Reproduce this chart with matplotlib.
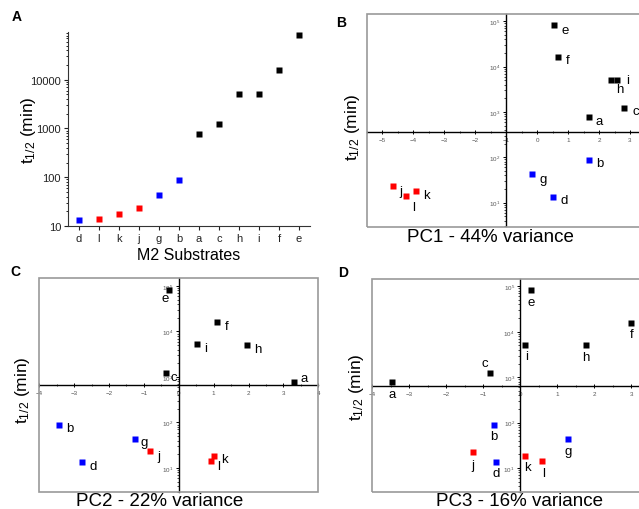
import numpy as np
import matplotlib.pyplot as plt
from matplotlib.patches import Rectangle
from matplotlib.ticker import LogLocator, NullFormatter, MultipleLocator, FixedLocator

plt.rcParams['font.family'] = ['Liberation Sans', 'DejaVu Sans']
plt.rcParams['mathtext.fontset'] = 'custom'
plt.rcParams['mathtext.rm'] = 'Liberation Sans'
plt.rcParams['mathtext.it'] = 'Liberation Sans:italic'
plt.rcParams['mathtext.default'] = 'regular'

# Substrates and their half-lives (min)
substrates = ['a', 'b', 'c', 'd', 'e', 'f', 'g', 'h', 'i', 'j', 'k', 'l']
t_half = [770, 88, 1250, 13.5, 83000, 16000, 43, 5000, 5200, 23, 18, 14]
groups = ['k', 'b', 'k', 'b', 'k', 'k', 'b', 'k', 'k', 'r', 'r', 'r']

# Order used on the x axis of panel A
order_a = ['d', 'l', 'k', 'j', 'g', 'b', 'a', 'c', 'h', 'i', 'f', 'e']

# Principal component scores
pc1 = [1.67, 1.67, 2.82, 0.53, 0.56, 0.69, -0.16, 2.38, 2.57, -4.64, -3.90, -4.23]
pc2 = [3.30, -3.44, -0.37, -2.77, -0.27, 1.09, -1.26, 1.96, 0.53, -0.82, 1.02, 0.92]
pc3 = [-3.46, -0.71, -0.82, -0.66, 0.30, 3.00, 1.30, 1.78, 0.14, -1.29, 0.14, 0.58]

colors = {'k': '#000000', 'b': '#0000ff', 'r': '#ff0000'}

W, H = 639, 510
fig = plt.figure(figsize=(W / 100, H / 100), dpi=100)


def box(left, top, right, bottom):
    return [left / W, 1 - bottom / H, (right - left) / W, (bottom - top) / H]


def ylabel_at(x, y):
    fig.text(x / W, 1 - y / H, r't$_{1/2}$ (min)', rotation=90,
             ha='center', va='center', fontsize=12.5)


# ---- Panel A ----
ax = fig.add_axes(box(68, 33, 310, 227))
idx = {s: i for i, s in enumerate(substrates)}
for pos, s in enumerate(order_a, start=1):
    i = idx[s]
    ax.plot(pos, t_half[i], 's', color=colors[groups[i]], ms=5, mec='none')
ax.set_yscale('log')
ax.set_ylim(10, 9.5e4)
ax.set_xlim(0.45, 12.55)
ax.set_xticks(range(1, 13))
ax.set_xticklabels(order_a)
ax.set_yticks([10, 100, 1000, 10000])
ax.set_yticklabels(['10', '100', '1000', '10000'])
ax.yaxis.set_minor_locator(LogLocator(base=10, subs=np.arange(2, 10)))
ax.yaxis.set_minor_formatter(NullFormatter())
ax.tick_params(labelsize=8, length=3, width=0.8, pad=2, colors='#222222')
ax.tick_params(which='minor', length=1.5, width=0.6)
for side in ('top', 'right'):
    ax.spines[side].set_visible(False)
for side in ('left', 'bottom'):
    ax.spines[side].set_color('#333333')
fig.text(189 / W, 1 - 255 / H, 'M2 Substrates', ha='center', va='center', fontsize=11.5)
ylabel_at(29, 130)
fig.text(17 / W, 1 - 17 / H, 'A', fontsize=10, fontweight='bold', ha='center', va='center')


def pca_panel(rect, xs, xlim, cross_x, cross_y, offsets, xlabel, xlab_pos, ylab_pos, letter, letter_pos):
    ax = fig.add_axes(rect)
    for i, s in enumerate(substrates):
        ax.plot(xs[i], t_half[i], 's', color=colors[groups[i]], ms=4.8, mec='none', zorder=3)
        dx, dy = offsets[s]
        ax.annotate(s, (xs[i], t_half[i]), xytext=(dx, -dy), textcoords='offset pixels',
                    ha='center', va='center', fontsize=9.5, zorder=4)
    ax.set_yscale('log')
    ax.set_ylim(10 ** 0.47, 10 ** 5.17)
    ax.set_xlim(*xlim)
    ax.spines['left'].set_position(('data', cross_x))
    ax.spines['bottom'].set_position(('data', cross_y))
    for side in ('top', 'right'):
        ax.spines[side].set_visible(False)
    for side in ('left', 'bottom'):
        ax.spines[side].set_linewidth(1.0)
    ax.xaxis.set_major_locator(MultipleLocator(1))
    ax.xaxis.set_minor_locator(MultipleLocator(0.5))
    ax.yaxis.set_major_locator(FixedLocator([10, 100, 1000, 1e4, 1e5]))
    ax.yaxis.set_minor_locator(LogLocator(base=10, subs=np.arange(2, 10)))
    ax.yaxis.set_minor_formatter(NullFormatter())
    ax.set_yticklabels([r'$10^{1}$', r'$10^{2}$', r'$10^{3}$', r'$10^{4}$', r'$10^{5}$'])
    ax.tick_params(axis='x', which='major', direction='inout', length=3, width=0.7,
                   labelsize=4.5, pad=2, labelcolor='#555555')
    ax.tick_params(axis='x', which='minor', direction='inout', length=2, width=0.5)
    ax.tick_params(axis='y', which='major', direction='out', length=2.5, width=0.7,
                   labelsize=4.5, pad=1.5, labelcolor='#555555')
    ax.tick_params(axis='y', which='minor', direction='out', length=1.3, width=0.5)
    ax.add_patch(Rectangle((0, 0), 1, 1, transform=ax.transAxes, fill=False,
                           edgecolor='#999999', lw=1.2, clip_on=False, zorder=5))
    fig.text(xlab_pos[0] / W, 1 - xlab_pos[1] / H, xlabel, ha='center', va='center', fontsize=13.5)
    ylabel_at(*ylab_pos)
    fig.text(letter_pos[0] / W, 1 - letter_pos[1] / H, letter, fontsize=10,
             fontweight='bold', ha='center', va='center')
    return ax


# label offsets in pixels (right, down)
off_b = {'a': (10.6, 4.4), 'b': (11.3, 3.3), 'c': (11, 3.7), 'd': (10.7, 3.4),
         'e': (10.7, 4.7), 'f': (9, 3), 'g': (10.7, 5.3), 'h': (8.6, 8.3),
         'i': (10.6, 0), 'j': (7.4, 5), 'k': (10, 4), 'l': (7.7, 11)}
off_c = {'a': (10.7, -4.4), 'b': (10.6, 3), 'c': (7.6, 4.7), 'd': (10.7, 3.6),
         'e': (-4, 8.3), 'f': (10, 3.7), 'g': (9, 2.7), 'h': (11, 4),
         'i': (8.7, 3.4), 'j': (9, 4.3), 'k': (10, 2.3), 'l': (7.3, 4.3)}
off_d = {'a': (0, 11.6), 'b': (0, 11), 'c': (-5.4, -10), 'd': (0, 11.3),
         'e': (0, 11.7), 'f': (0, 11), 'g': (0, 12), 'h': (0, 12),
         'i': (1.4, 11.7), 'j': (0, 13), 'k': (2, 11), 'l': (1.4, 11.3)}

pca_panel(box(366.7, 14.7, 648.6, 227.5), pc1, (-5.5, 3.6), -1, 355, off_b,
          'PC1 - 44% variance', (490, 238), (353, 127), 'B', (341, 23))
pca_panel(box(39.3, 279.3, 318.3, 493), pc2, (-4, 4), 0, 665, off_c,
          'PC2 - 22% variance', (160, 502), (23, 390), 'C', (15, 272))
pca_panel(box(372.3, 279.7, 653.5, 493), pc3, (-4, 3.6), 0, 650, off_d,
          'PC3 - 16% variance', (519, 502), (357, 387), 'D', (343, 273))

fig.savefig('out.png', dpi=100)
